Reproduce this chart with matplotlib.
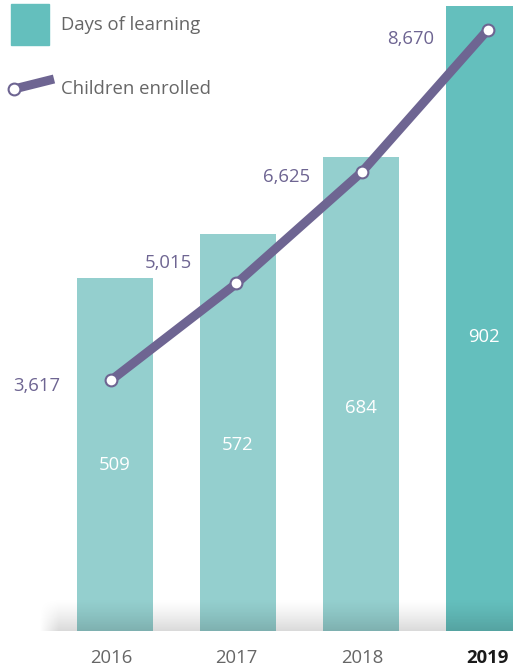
import numpy as np
import matplotlib
matplotlib.use('Agg')
import matplotlib.pyplot as plt
from matplotlib.patches import Rectangle
from matplotlib.lines import Line2D

years = ['2016', '2017', '2018', '2019']
days_of_learning = [509, 572, 684, 902]
children_enrolled = [3617, 5015, 6625, 8670]

bar_light = '#94cfce'
bar_dark = '#64bfbd'
purple = '#6e6592'
grey_text = '#666666'

plt.rcParams['font.family'] = ['Open Sans', 'DejaVu Sans']
fsize = 13.3

fig = plt.figure(figsize=(5.13, 6.72), dpi=100)
W, H = 513, 672
rect = [0, 41 / H, 1, 631 / H]

# bars
ax = fig.add_axes(rect)
x = np.arange(len(years))
colors = [bar_light] * 3 + [bar_dark]
ax.bar(x, days_of_learning, width=0.618, color=colors, zorder=1)
for xi, v in zip(x, days_of_learning):
    ax.text(xi, v * 0.47, str(v), color='white', ha='center', va='center', fontsize=fsize, zorder=3)

# soft shadow along the bottom
gh, gw = 60, 400
yy = np.linspace(0, 1, gh)[:, None]
xx = np.linspace(0, 1, gw)[None, :]
alpha = 0.15 * (yy ** 1.3) * np.clip(xx / 0.04, 0, 1)
shade = np.zeros((gh, gw, 4))
shade[..., 3] = alpha
ax.imshow(shade, extent=[-0.62, 3.3, 0, 47], origin='upper', aspect='auto', zorder=2, interpolation='bilinear')

ax.set_xlim(-0.935, 3.236)
ax.set_ylim(0, 910)
ax.axis('off')

# line on its own axes
ax2 = fig.add_axes(rect)
ax2.patch.set_alpha(0)
ax2.plot(x, children_enrolled, color=purple, lw=6.5, solid_capstyle='round', zorder=4,
         marker='o', ms=8.5, mfc='white', mec=purple, mew=1.5)
offsets = [(-51, -6), (-44, 20), (-52, -5), (-53, -9)]
for xi, v, off in zip(x, children_enrolled, offsets):
    ax2.annotate(f'{v:,}', (xi, v), xytext=off, textcoords='offset pixels',
                 ha='right', va='center', color=purple, fontsize=fsize)
ax2.set_xlim(-0.884, 3.203)
ax2.set_ylim(0, 9105)
for s in ax2.spines.values():
    s.set_visible(False)
ax2.set_yticks([])
ax2.set_xticks(x)
ax2.set_xticklabels(years, fontsize=fsize, color=grey_text)
ax2.tick_params(axis='x', length=0, pad=13)
lab = ax2.get_xticklabels()[-1]
lab.set_fontweight('bold')
lab.set_color('#1a1a1a')

# legend drawn by hand (pixel coords from top-left)
def fx(px):
    return px / W

def fy(py):
    return 1 - py / H

fig.patches.append(Rectangle((fx(11), fy(45)), 38 / W, 41 / H, transform=fig.transFigure,
                             color=bar_dark, zorder=5))
fig.text(fx(61), fy(25), 'Days of learning', color=grey_text, fontsize=fsize, va='center')
fig.lines.append(Line2D([fx(14), fx(54)], [fy(89), fy(79)], transform=fig.transFigure,
                        color=purple, lw=6.5, solid_capstyle='butt'))
fig.lines.append(Line2D([fx(14)], [fy(89)], transform=fig.transFigure, marker='o', ms=8.5,
                        mfc='white', mec=purple, mew=1.5, lw=0))
fig.text(fx(61), fy(89), 'Children enrolled', color=grey_text, fontsize=fsize, va='center')

fig.savefig('out.png', dpi=100)
